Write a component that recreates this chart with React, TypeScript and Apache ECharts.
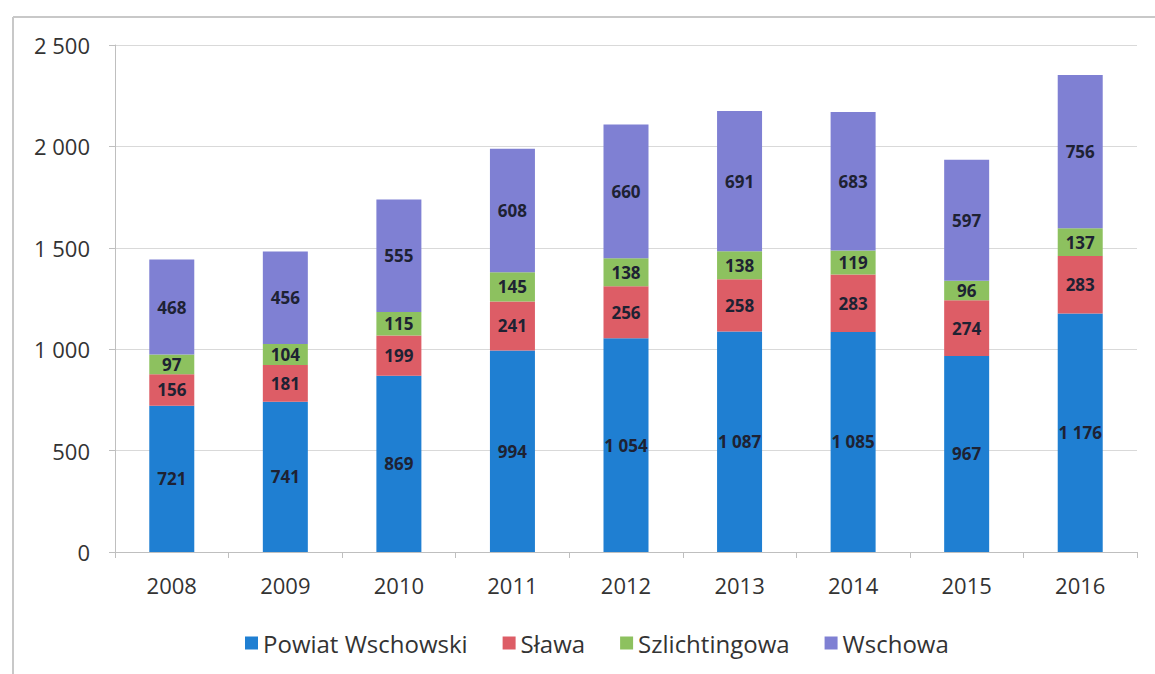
import React, { useEffect, useRef } from "react";
import * as echarts from "echarts";

const years = ["2008", "2009", "2010", "2011", "2012", "2013", "2014", "2015", "2016"];
const powiatWschowski = [721, 741, 869, 994, 1054, 1087, 1085, 967, 1176];
const slawa = [156, 181, 199, 241, 256, 258, 283, 274, 283];
const szlichtingowa = [97, 104, 115, 145, 138, 138, 119, 96, 137];
const wschowa = [468, 456, 555, 608, 660, 691, 683, 597, 756];

const seriesNames = ["Powiat Wschowski", "Sława", "Szlichtingowa", "Wschowa"];
const seriesColors = ["#1f7fd2", "#dd5d66", "#8dc15f", "#7f80d3"];

const FONT = "'Open Sans', 'Liberation Sans', sans-serif";

function fmt(n: number): string {
  if (n >= 1000) {
    return `${Math.floor(n / 1000)} ${String(n % 1000).padStart(3, "0")}`;
  }
  return String(n);
}

export default function App() {
  const ref = useRef<HTMLDivElement>(null);

  useEffect(() => {
    if (!ref.current) return;
    const chart = echarts.init(ref.current, null, { renderer: "svg" });
    const dataSets = [powiatWschowski, slawa, szlichtingowa, wschowa];
    chart.setOption({
      animation: false,
      backgroundColor: "#ffffff",
      textStyle: { fontFamily: FONT },
      grid: { left: 115, right: 18, top: 45, bottom: 122, containLabel: false },
      legend: {
        left: 240,
        top: 626,
        itemWidth: 13,
        itemHeight: 13,
        itemGap: 35,
        icon: "rect",
        textStyle: { fontSize: 24, color: "#333333", fontFamily: FONT },
        data: seriesNames,
      },
      xAxis: {
        type: "category",
        data: years,
        axisLine: { show: true, lineStyle: { color: "#bfbfbf", width: 1 } },
        axisTick: { show: true, length: 6, lineStyle: { color: "#bfbfbf" } },
        axisLabel: { fontSize: 22, color: "#333333", margin: 22, fontFamily: FONT },
      },
      yAxis: {
        type: "value",
        min: 0,
        max: 2500,
        interval: 500,
        axisLine: { show: true, lineStyle: { color: "#bfbfbf", width: 1 } },
        axisTick: { show: true, length: 6, lineStyle: { color: "#bfbfbf" } },
        splitLine: { show: true, lineStyle: { color: "#d9d9d9", width: 1 } },
        axisLabel: {
          fontSize: 22,
          color: "#333333",
          margin: 25,
          fontFamily: FONT,
          formatter: (v: number) => fmt(v),
        },
      },
      graphic: [
        {
          type: "line",
          shape: { x1: 13, y1: 17, x2: 1155, y2: 17 },
          style: { stroke: "#c8c8c8", lineWidth: 2 },
        },
        {
          type: "line",
          shape: { x1: 13, y1: 17, x2: 13, y2: 674 },
          style: { stroke: "#c8c8c8", lineWidth: 2 },
        },
      ],
      series: seriesNames.map((name, i) => ({
        name,
        type: "bar",
        stack: "total",
        barWidth: 45,
        data: dataSets[i],
        itemStyle: { color: seriesColors[i] },
        label: {
          show: true,
          position: "inside",
          fontSize: 17,
          fontWeight: "bold",
          color: "#1e2233",
          fontFamily: FONT,
          formatter: (p: any) => fmt(p.value),
        },
      })),
    });
    return () => chart.dispose();
  }, []);

  return (
    <div
      ref={ref}
      style={{ position: "fixed", left: 0, top: 0, width: 1155, height: 674 }}
    />
  );
}
